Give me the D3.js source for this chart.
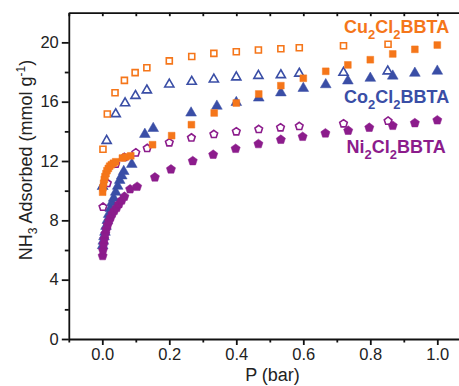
<!DOCTYPE html>
<html>
<head>
<meta charset="utf-8">
<script src="https://cdn.jsdelivr.net/npm/d3@7"></script>
<style>
    html, body { margin: 0; padding: 0; background: #fff; }
    svg { display: block; font-family: "Liberation Sans", Arial, sans-serif; }
</style>
</head>
<body>
<script>
// ----- Data (P in bar, NH3 uptake in mmol/g) -----

const cuAdsP = [0.001, 0.002, 0.004, 0.006, 0.008, 0.011, 0.014, 0.018, 0.022, 0.027, 0.033, 0.040, 0.060, 0.070, 0.085,
    0.15, 0.207, 0.266, 0.334, 0.4, 0.467, 0.533, 0.6, 0.667, 0.733, 0.8, 0.867, 0.933, 1.0];
const cuAdsV = [9.9, 10.2, 10.5, 10.75, 10.95, 11.15, 11.35, 11.5, 11.65, 11.75, 11.85, 11.95, 12.2, 12.28, 12.35,
    13.1, 13.71, 14.45, 15.24, 15.91, 16.52, 17.08, 17.58, 18.05, 18.48, 18.83, 19.22, 19.53, 19.82];
const cuDesP = [0.002, 0.015, 0.038, 0.066, 0.098, 0.133, 0.2, 0.267, 0.333, 0.4, 0.466, 0.533, 0.588, 0.72, 0.853];
const cuDesV = [12.79, 15.17, 16.6, 17.44, 17.96, 18.29, 18.75, 19.05, 19.26, 19.37, 19.49, 19.57, 19.64, 19.77, 19.87];

const coAdsP = [0.001, 0.003, 0.005, 0.008, 0.011, 0.015, 0.019, 0.024, 0.029, 0.034, 0.040, 0.046, 0.052, 0.058, 0.064, 0.088,
    0.127, 0.152, 0.265, 0.342, 0.4, 0.467, 0.533, 0.6, 0.667, 0.733, 0.8, 0.867, 0.933, 1.0];
const coAdsV = [6.3, 6.6, 6.9, 7.2, 7.6, 8.0, 8.4, 8.8, 9.2, 9.5, 9.9, 10.3, 10.7, 11.0, 11.3, 11.78,
    13.8, 14.2, 15.24, 15.7, 15.95, 16.25, 16.6, 16.9, 17.15, 17.4, 17.58, 17.73, 17.92, 18.06];
const coDesP = [0.001, 0.013, 0.04, 0.068, 0.099, 0.133, 0.2, 0.267, 0.333, 0.4, 0.466, 0.533, 0.588, 0.72, 0.852];
const coDesV = [10.3, 13.37, 15.17, 15.9, 16.4, 16.77, 17.17, 17.35, 17.51, 17.65, 17.75, 17.8, 17.9, 17.96, 18.05];

const niAdsP = [0.001, 0.002, 0.004, 0.006, 0.009, 0.012, 0.016, 0.020, 0.025, 0.030, 0.036, 0.043, 0.050, 0.058, 0.066, 0.083, 0.104,
    0.157, 0.205, 0.27, 0.331, 0.398, 0.466, 0.533, 0.598, 0.666, 0.734, 0.797, 0.867, 0.933, 1.0];
const niAdsV = [5.6, 6.0, 6.4, 6.75, 7.1, 7.4, 7.7, 7.95, 8.2, 8.45, 8.65, 8.85, 9.1, 9.35, 9.6, 10.1, 10.27,
    10.9, 11.44, 12.0, 12.43, 12.83, 13.15, 13.44, 13.64, 13.87, 14.05, 14.25, 14.38, 14.56, 14.75];
const niDesP = [0.002, 0.015, 0.04, 0.066, 0.1, 0.134, 0.2, 0.266, 0.333, 0.4, 0.467, 0.532, 0.588, 0.72, 0.853];
const niDesV = [8.9, 10.5, 11.8, 12.25, 12.56, 12.86, 13.24, 13.57, 13.8, 13.98, 14.14, 14.25, 14.34, 14.52, 14.7];

const xTicks = [0.0, 0.2, 0.4, 0.6, 0.8, 1.0];
const xMinorTicks = [-0.1, 0.1, 0.3, 0.5, 0.7, 0.9];
const yTicks = [0, 4, 8, 12, 16, 20];
const yMinorTicks = [2, 6, 10, 14, 18];

const Colors = { cu: "#f5761a", co: "#3a4ea6", ni: "#8c1c8c" };

// ----- Main program -----

function pentagon(r) {
    const pts = d3.range(5).map(k => {
        const a = -Math.PI / 2 + k * 2 * Math.PI / 5;
        return [r * Math.cos(a), r * Math.sin(a)];
    });
    return "M" + pts.map(p => p.join(",")).join("L") + "Z";
}

function main() {
    const width = 459, height = 386;
    const svg = d3.select("body").append("svg")
        .attr("width", width)
        .attr("height", height);

    const scaleX = d3.scaleLinear()
        .domain([-0.1, 1.1])
        .range([68.8, 470.8]);
    const scaleY = d3.scaleLinear()
        .domain([0, 22])
        .range([339, 12.7]);

    // Markers
    const shapes = {
        square: d3.symbol(d3.symbolSquare, 46)(),
        openSquare: d3.symbol(d3.symbolSquare, 36)(),
        triangle: d3.symbol(d3.symbolTriangle, 50)(),
        openTriangle: d3.symbol(d3.symbolTriangle, 36)(),
        pentagon: pentagon(4.8),
        openPentagon: pentagon(4.0)
    };

    const series = [
        { p: coDesP, v: coDesV, color: Colors.co, shape: "openTriangle", open: true },
        { p: cuDesP, v: cuDesV, color: Colors.cu, shape: "openSquare", open: true },
        { p: niDesP, v: niDesV, color: Colors.ni, shape: "openPentagon", open: true },
        { p: coAdsP, v: coAdsV, color: Colors.co, shape: "triangle", open: false },
        { p: cuAdsP, v: cuAdsV, color: Colors.cu, shape: "square", open: false },
        { p: niAdsP, v: niAdsV, color: Colors.ni, shape: "pentagon", open: false }
    ];

    const plot = svg.append("g").attr("class", "points");
    series.forEach(s => {
        plot.append("g")
            .selectAll("path")
            .data(s.p.map((p, i) => [p, s.v[i]]))
            .enter()
            .append("path")
                .attr("d", shapes[s.shape])
                .attr("transform", d => `translate(${scaleX(d[0])}, ${scaleY(d[1])})`)
                .attr("fill", s.open ? "#fff" : s.color)
                .attr("stroke", s.color)
                .attr("stroke-width", s.open ? 1.6 : 0.5);
    });

    // Axes
    const axisColor = "#111";
    const bottomAxis = d3.axisBottom(scaleX)
        .tickValues(xTicks)
        .tickFormat(d3.format(".1f"))
        .tickSizeInner(6)
        .tickSizeOuter(0)
        .tickPadding(3);
    svg.append("g")
        .attr("transform", `translate(0, ${scaleY(0)})`)
        .call(bottomAxis);
    svg.append("g")
        .attr("transform", `translate(0, ${scaleY(0)})`)
        .call(d3.axisBottom(scaleX).tickValues(xMinorTicks).tickSize(3.5).tickFormat(""))
        .call(g => g.select(".domain").remove());

    const leftAxis = d3.axisLeft(scaleY)
        .tickValues(yTicks)
        .tickFormat(d3.format("d"))
        .tickSizeInner(7)
        .tickSizeOuter(0)
        .tickPadding(3);
    svg.append("g")
        .attr("transform", `translate(${scaleX(-0.1)}, 0)`)
        .call(leftAxis);
    svg.append("g")
        .attr("transform", `translate(${scaleX(-0.1)}, 0)`)
        .call(d3.axisLeft(scaleY).tickValues(yMinorTicks).tickSize(4).tickFormat(""))
        .call(g => g.select(".domain").remove());

    // Top frame with inward ticks
    svg.append("g")
        .attr("transform", `translate(0, ${scaleY(22)})`)
        .call(d3.axisTop(scaleX).tickValues(xTicks.concat(xMinorTicks)).tickSize(-3.5).tickSizeOuter(0).tickFormat(""));

    svg.selectAll(".domain, .tick line")
        .attr("stroke", axisColor)
        .attr("stroke-width", 1.8);
    svg.selectAll(".tick text")
        .attr("fill", "#222")
        .style("font-size", "16.5px");

    // Axis titles
    svg.append("text")
        .attr("x", 272.5)
        .attr("y", 380.5)
        .attr("text-anchor", "middle")
        .attr("fill", "#222")
        .style("font-size", "18px")
        .text("P (bar)");

    const yTitle = svg.append("text")
        .attr("transform", `translate(32, 160) rotate(-90)`)
        .attr("text-anchor", "middle")
        .attr("fill", "#222")
        .style("font-size", "18px");
    yTitle.append("tspan").text("NH");
    yTitle.append("tspan").attr("dy", 5).style("font-size", "12px").text("3");
    yTitle.append("tspan").attr("dy", -5).text(" Adsorbed (mmol g");
    yTitle.append("tspan").attr("dy", -7).style("font-size", "12px").text("-1");
    yTitle.append("tspan").attr("dy", 7).text(")");

    // Series labels
    const labels = [
        { name: "Cu", color: Colors.cu, x: 344, y: 33.3 },
        { name: "Co", color: Colors.co, x: 344, y: 103.3 },
        { name: "Ni", color: Colors.ni, x: 346.5, y: 153.3 }
    ];
    labels.forEach(l => {
        const t = svg.append("text")
            .attr("x", l.x)
            .attr("y", l.y)
            .attr("fill", l.color)
            .style("font-size", "18px")
            .style("font-weight", "bold");
        t.append("tspan").text(l.name);
        t.append("tspan").attr("dy", 6).style("font-size", "13px").text("2");
        t.append("tspan").attr("dy", -6).text("Cl");
        t.append("tspan").attr("dy", 6).style("font-size", "13px").text("2");
        t.append("tspan").attr("dy", -6).text("BBTA");
    });
}

main();
</script>
</body>
</html>
